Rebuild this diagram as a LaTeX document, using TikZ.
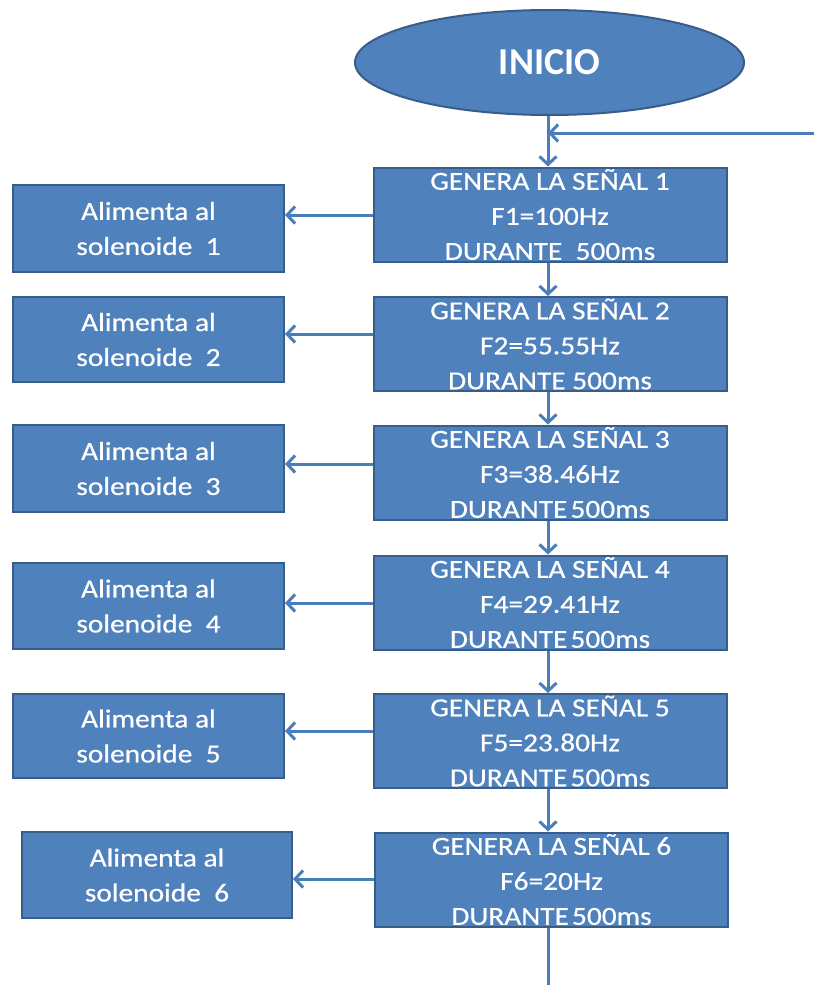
\documentclass[tikz,border=0pt]{standalone}
\usepackage{fontspec}
\setmainfont{Carlito}
\newfontfamily\boxfont[FakeStretch=1.13,FakeBold=0.5]{Carlito}
\usetikzlibrary{shapes.geometric,arrows.meta}
\definecolor{boxfill}{HTML}{4F81BD}
\definecolor{boxline}{HTML}{385D8A}
\definecolor{arrcol}{HTML}{4A7EBB}
\begin{document}
\begin{tikzpicture}[x=1pt,y=-1pt,
  rbox/.style={draw=boxline,fill=boxfill,line width=2pt,minimum width=353pt,minimum height=94pt,inner sep=0pt,text=white,align=center,font=\boxfont\fontsize{26}{35}\selectfont},
  lbox/.style={draw=boxline,fill=boxfill,line width=2pt,minimum width=271pt,minimum height=86pt,inner sep=0pt,text=white,align=center,font=\boxfont\fontsize{26}{35}\selectfont},
  startnode/.style={ellipse,draw=boxline,fill=boxfill,line width=2pt,minimum width=389pt,minimum height=105pt,inner sep=0pt,text=white,font=\fontsize{38}{40}\selectfont\bfseries},
  conn/.style={draw=arrcol,line width=3pt,-{Straight Barb[length=8pt,width=17pt,line width=3pt]}},
  plain/.style={draw=arrcol,line width=3pt}]
\useasboundingbox (0,0) rectangle (814,985);
\node[startnode] (start) at (549.5,62.5) {INICIO};
\node[rbox] (r1) at (550,214.5) {GENERA LA SEÑAL 1\\F1=100Hz\\DURANTE~~500ms};
\node[rbox] (r2) at (550,344) {GENERA LA SEÑAL 2\\F2=55.55Hz\\DURANTE 500ms};
\node[rbox] (r3) at (550,472.5) {GENERA LA SEÑAL 3\\F3=38.46Hz\\DURANTE\hspace{0.12em}500ms};
\node[rbox] (r4) at (550,602.5) {GENERA LA SEÑAL 4\\F4=29.41Hz\\DURANTE\hspace{0.12em}500ms};
\node[rbox] (r5) at (550,741) {GENERA LA SEÑAL 5\\F5=23.80Hz\\DURANTE\hspace{0.12em}500ms};
\node[rbox] (r6) at (551.5,879.5) {GENERA LA SEÑAL 6\\F6=20Hz\\DURANTE\hspace{0.12em}500ms};
\node[lbox,minimum height=87pt] (l1) at (148.5,228.5) {Alimenta al\\solenoide~~1};
\node[lbox,minimum height=85pt] (l2) at (148.5,339.5) {Alimenta al\\solenoide~~2};
\node[lbox,minimum height=87pt] (l3) at (148.5,468.5) {Alimenta al\\solenoide~~3};
\node[lbox] (l4) at (148.5,606) {Alimenta al\\solenoide~~4};
\node[lbox,minimum height=84pt] (l5) at (148.5,736) {Alimenta al\\solenoide~~5};
\node[lbox,minimum height=86pt,minimum width=270pt] (l6) at (157,875) {Alimenta al\\solenoide~~6};
\coordinate (feed) at (814,133);
\coordinate (endpt) at (548,985);
% vertical flow
\draw[conn] (start.south -| 548,0) -- (r1.north -| 548,0);
\draw[conn] (feed) -- (feed -| 548,0);
\draw[conn] (r1.south -| 548,0) -- (r2.north -| 548,0);
\draw[conn] (r2.south -| 548,0) -- (r3.north -| 548,0);
\draw[conn] (r3.south -| 548,0) -- (r4.north -| 548,0);
\draw[conn] (r4.south -| 548,0) -- (r5.north -| 548,0);
\draw[conn] (r5.south -| 548,0) -- (r6.north -| 548,0);
\draw[plain] (r6.south -| 548,0) -- (endpt);
% side arrows
\draw[conn] (r1.west |- 0,215) -- (l1.east |- 0,215);
\draw[conn] (r2.west |- 0,334) -- (l2.east |- 0,334);
\draw[conn] (r3.west |- 0,464) -- (l3.east |- 0,464);
\draw[conn] (r4.west |- 0,603) -- (l4.east |- 0,603);
\draw[conn] (r5.west |- 0,731) -- (l5.east |- 0,731);
\draw[conn] (r6.west |- 0,879) -- (l6.east |- 0,879);
\end{tikzpicture}
\end{document}
